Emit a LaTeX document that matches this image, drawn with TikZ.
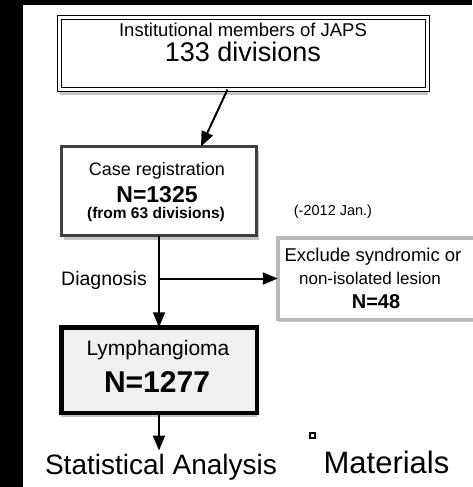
\documentclass[tikz,border=0pt]{standalone}
\usepackage{fontspec}
\setmainfont{Liberation Sans}
\usetikzlibrary{arrows.meta,shadows}

\begin{document}
\begin{tikzpicture}[
  x=1pt, y=-1pt,
  box/.style={inner sep=0pt, outer sep=0pt, fill=white},
  hdr/.style={box, draw, double, double distance=2.4pt, line width=1.3pt,
              minimum width=368pt, minimum height=72pt,
              drop shadow={shadow xshift=0pt, shadow yshift=-5pt, fill=gray!45, opacity=1}},
  reg/.style={box, draw=black!75, line width=3pt,
              minimum width=195pt, minimum height=89pt,
              drop shadow={shadow xshift=2pt, shadow yshift=-4pt, fill=gray!45, opacity=1}},
  excl/.style={box, draw=gray!55, line width=3.5pt,
               minimum width=222pt, minimum height=81.5pt,
               drop shadow={shadow xshift=0pt, shadow yshift=-3pt, fill=gray!40, opacity=1}},
  res/.style={box, draw, line width=4.5pt, fill=gray!12,
              minimum width=195.5pt, minimum height=85.5pt,
              drop shadow={shadow xshift=0pt, shadow yshift=-4pt, fill=gray!45, opacity=1}},
  txt/.style={anchor=base, inner sep=0pt},
  arr/.style={-{Triangle[length=15pt, width=12pt]}, line width=2pt},
]
  \useasboundingbox (0,0) rectangle (472,487);

  % ----- Black scan edges -----
  \fill (0,0) rectangle (23,487);
  \fill (0,0) rectangle (472,5);

  % ----- Boxes -----
  \node[hdr]  (japs)  at (243.5,53.5) {};
  \node[reg]  (case)  at (159,191)    {};
  \node[excl] (excl)  at (388.75,278.5) {};
  \node[res]  (lymph) at (159,370)    {};

  % ----- Texts -----
  \node[txt, font=\fontsize{18.5}{20}\selectfont] (japsA) at (243,36.5) {Institutional members of JAPS};
  \node[txt, font=\fontsize{27}{29}\selectfont]   (japsB) at (243,61.5) {133 divisions};

  \node[txt, font=\fontsize{18}{20}\selectfont] (caseA) at (157,175) {Case registration};
  \node[txt, font=\fontsize{23}{25}\selectfont\bfseries] (caseB) at (157,202) {N=1325};
  \node[txt, font=\fontsize{15.5}{17}\selectfont\bfseries] (caseC) at (156,218) {(from 63 divisions)};

  \node[txt, font=\fontsize{14.5}{16}\selectfont] (date) at (333,215) {(-2012 Jan.)};

  \node[txt, anchor=base west, font=\fontsize{19.5}{21}\selectfont] (diag) at (61,285) {Diagnosis};

  \node[txt, font=\fontsize{18.5}{20}\selectfont] (exclA) at (373,261) {Exclude syndromic or};
  \node[txt, font=\fontsize{17}{19}\selectfont]   (exclB) at (370,284) {non-isolated lesion};
  \node[txt, font=\fontsize{20}{22}\selectfont\bfseries] (exclC) at (376,308) {N=48};

  \node[txt, font=\fontsize{21}{23}\selectfont] (lymphA) at (158,355) {Lymphangioma};
  \node[txt, font=\fontsize{30}{32}\selectfont\bfseries] (lymphB) at (157,392) {N=1277};

  \node[txt, font=\fontsize{28}{30}\selectfont, inner sep=3pt] (stat) at (161,474) {Statistical Analysis};
  \node[draw, line width=1.2pt, minimum size=5pt, inner sep=0pt] (mark) at (312.5,435.5) {};
  \node[txt, font=\fontsize{31}{33}\selectfont] (mat) at (386.5,473) {Materials};

  % ----- Connectors -----
  \coordinate (split) at (case.south |- excl.west);
  \draw[arr] ([xshift=-16pt]japs.south) -- ([xshift=42pt]case.north);
  \draw[arr] (case.south) -- (lymph.north);
  \draw[arr] (split) -- (excl.west);
  \draw[arr] (lymph.south) -- (lymph.south |- stat.north);
\end{tikzpicture}
\end{document}
